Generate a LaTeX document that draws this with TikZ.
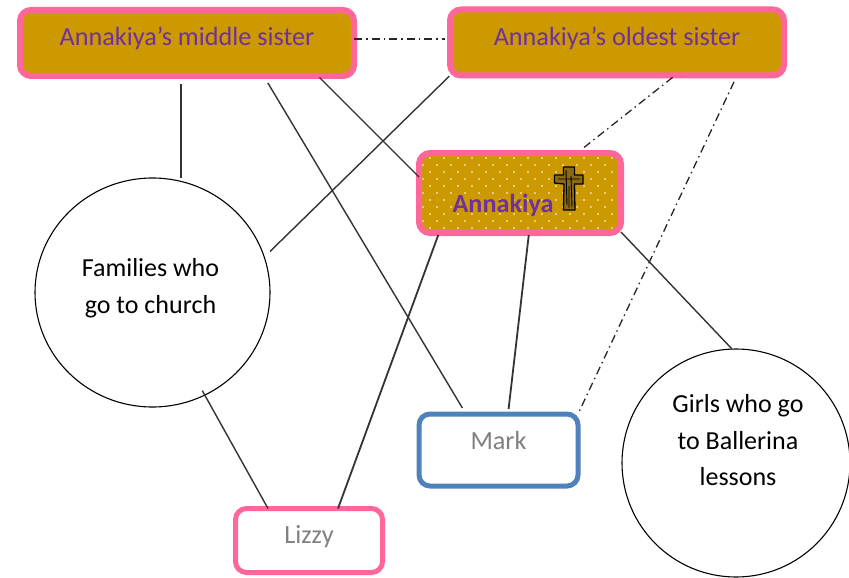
\documentclass[tikz,border=0pt]{standalone}
\usepackage{fontspec}
\setmainfont{Carlito}
\usetikzlibrary{shapes.geometric}
\definecolor{pinkb}{HTML}{FF6699}
\definecolor{gold}{HTML}{CC9900}
\definecolor{purp}{HTML}{7030A0}
\definecolor{blueb}{HTML}{4F81BD}
\definecolor{wood}{HTML}{8A6A12}
\newcommand{\lifted}[2]{\raisebox{#1}[0pt][0pt]{#2}}
\newcommand{\linesof}[1]{\begin{tabular}{@{}c@{}}#1\end{tabular}}
\tikzset{
  x=1pt,y=-1pt,
  boxbase/.style={draw,rectangle,rounded corners=11pt,outer sep=0pt,inner sep=0pt,font=\fontsize{26.2}{30}\selectfont},
  sister/.style={boxbase,draw=pinkb,line width=6pt,fill=gold,text=purp,minimum width=334pt,minimum height=66pt},
  person/.style={boxbase,line width=5pt,fill=white,text=black!50},
  group/.style={draw=black,line width=1.1pt,ellipse,outer sep=0pt,inner sep=0pt,font=\fontsize{26}{36.8}\selectfont},
  tie/.style={draw=black!80,line width=1.4pt},
  heavytie/.style={tie,line width=1.8pt},
  dashtie/.style={draw=black!85,line width=1.3pt,dash pattern=on 8pt off 4pt on 1.5pt off 4pt},
}
\begin{document}
\begin{tikzpicture}
\useasboundingbox (0,0) rectangle (849,578);
\node[sister] (mid) at (187,43) {\lifted{-2pt}{Annakiya’s middle sister}};
\node[sister] (old) at (617,42.5) {\lifted{-2.5pt}{Annakiya’s oldest sister}};
% dotted ground of the Annakiya box
\begin{scope}
  \clip[rounded corners=11pt] (419,153) rectangle (621,233);
  \fill[gold] (419,153) rectangle (621,233);
  \foreach \r in {0,...,12}{
    \foreach \c in {0,...,15}{
      \pgfmathsetmacro{\dx}{416+14*\c+7*mod(\r,2)}
      \pgfmathsetmacro{\dy}{158+7*\r}
      \fill[white] (\dx,\dy) circle[radius=0.9pt];
    }
  }
\end{scope}
\node[sister,fill=none,minimum width=202pt,minimum height=80pt] (anna) at (520,193) {\lifted{-19pt}{\textbf{Annakiya}\hspace{34pt}}};
\node[person,draw=blueb,minimum width=159pt,minimum height=72pt] (mark) at (498.5,450) {\lifted{1pt}{Mark}};
\node[person,draw=pinkb,minimum width=147pt,minimum height=64pt] (liz) at (309,540.5) {\lifted{-3pt}{Lizzy}};
\node[group,minimum width=235pt,minimum height=229pt] (fam) at (152.5,292.5) {\lifted{-1.5pt}{\linesof{Families who\\go to church}\hspace{4pt}}};
\node[group,minimum width=228pt,minimum height=228pt] (girl) at (736,463) {\lifted{15pt}{\hspace{4pt}\linesof{Girls who go\\to Ballerina\\lessons}}};
% cross
\path[fill=wood,draw=black,line width=1.3pt,line join=round]
  (563.5,167) -- (574.5,167) -- (574.5,175) -- (583,175) -- (583,184) -- (574.5,184) -- (575,210) -- (563.5,210) -- (564,184) -- (554.5,183) -- (554.5,175) -- (563.5,175) -- cycle;
\draw[black,line width=0.9pt] (566,170) -- (567,205) (571,176) -- (572,207) (558,179) -- (580,179) (569,186) -- (569,208);
% ties
\path[tie,shorten <=8pt] ([xshift=-6pt]mid.south) -- (fam.north -| 181,0);
\path[tie,shorten <=8pt,shorten >=7pt] ([xshift=76.7pt]mid.south) -- ([xshift=-32.5pt]mark.north);
\path[tie,shorten <=2pt] ([xshift=131pt]mid.south) -- ([yshift=16pt]anna.west);
\path[tie,shorten <=1pt] ([xshift=-167pt]old.south) -- ([yshift=41pt]fam.east);
\path[tie,shorten <=-5pt] (fam.-63) -- ([xshift=-41pt]liz.north);
\path[heavytie,shorten <=2pt] ([xshift=-81pt]anna.south) -- ([xshift=29pt]liz.north);
\path[heavytie,shorten <=2pt,shorten >=5pt] ([xshift=9pt]anna.south) -- ([xshift=9.5pt]mark.north);
\path[tie] ([yshift=-39pt]anna.east) -- ([xshift=-4pt]girl.north);
\path[dashtie,shorten >=5pt] ([yshift=4pt]mid.east) -- ([yshift=3.5pt]old.west);
\path[dashtie,shorten <=3pt,shorten >=7pt] ([xshift=58pt]old.south) -- ([xshift=57pt]anna.north);
\path[dashtie,shorten <=7pt] ([xshift=120pt]old.south) -- (mark.north east);
\end{tikzpicture}
\end{document}
